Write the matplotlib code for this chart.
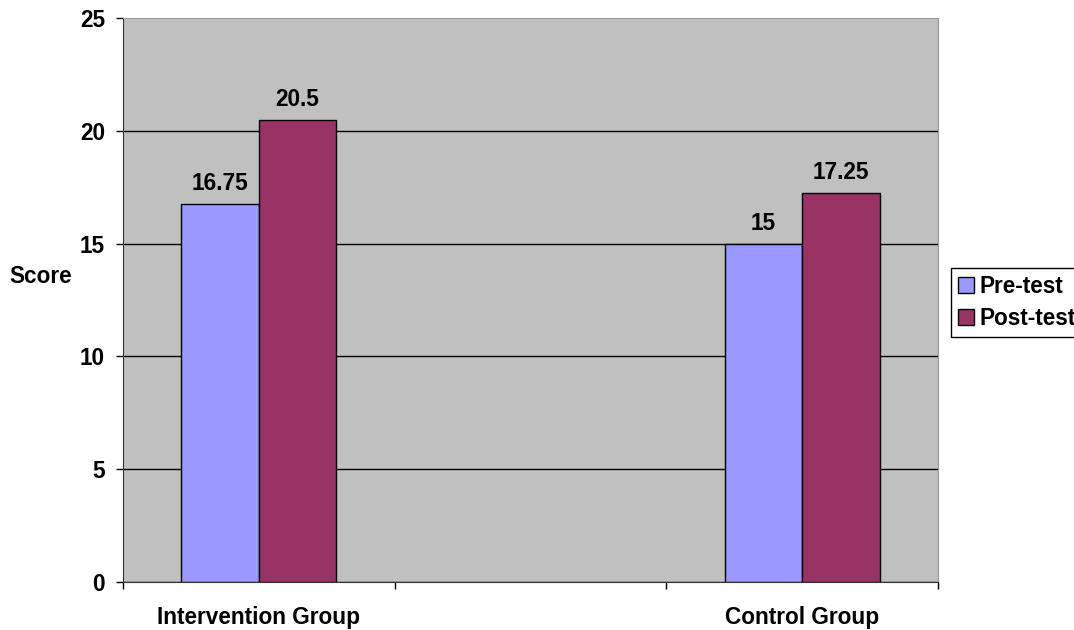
import matplotlib.pyplot as plt
import numpy as np

groups = ["Intervention Group", "", "Control Group"]
pre_test = [16.75, np.nan, 15]
post_test = [20.5, np.nan, 17.25]
pre_labels = ["16.75", "", "15"]
post_labels = ["20.5", "", "17.25"]

plt.rcParams["font.family"] = ["Liberation Sans", "DejaVu Sans"]
plt.rcParams["font.weight"] = "bold"
fs = 16.3

fig = plt.figure(figsize=(10.74, 6.3), dpi=100)
ax = fig.add_axes([123 / 1074, 48 / 630, 815 / 1074, 564 / 630])
ax.set_facecolor("#C0C0C0")

x = np.arange(len(groups))
w = 1 / 3.5  # gap width 150%
b1 = ax.bar(x - w / 2, pre_test, w, color="#9999FF", edgecolor="black",
            linewidth=1, label="Pre-test", zorder=3)
b2 = ax.bar(x + w / 2, post_test, w, color="#993366", edgecolor="black",
            linewidth=1, label="Post-test", zorder=3)

for bars, vals, labs in [(b1, pre_test, pre_labels), (b2, post_test, post_labels)]:
    for rect, v, s in zip(bars, vals, labs):
        if s:
            ax.annotate(s, (rect.get_x() + rect.get_width() / 2, v),
                        xytext=(0, 10), textcoords="offset points",
                        ha="center", va="baseline", fontsize=fs,
                        fontweight="bold")

ax.set_xlim(-0.5, 2.5)
ax.set_ylim(0, 25)
ax.set_yticks([0, 5, 10, 15, 20, 25])
ax.tick_params(axis="y", labelsize=fs, length=5, width=1, pad=8,
               direction="out")

# category boundaries get the tick marks, names sit between them
ax.set_xticks([-0.5, 0.5, 1.5, 2.5])
ax.set_xticklabels([])
ax.set_xticks(x, minor=True)
ax.set_xticklabels(groups, minor=True)
ax.tick_params(axis="x", which="major", length=5, width=1, direction="out")
ax.tick_params(axis="x", which="minor", length=0, pad=17, labelsize=fs)

ax.grid(axis="y", color="black", linewidth=1, zorder=1)
ax.set_axisbelow(True)
ax.get_ygridlines()[-1].set_visible(False)

for side in ["left", "bottom"]:
    ax.spines[side].set_color("#333333")
for side in ["top", "right"]:
    ax.spines[side].set_color("#999999")

ax.set_ylabel("Score", rotation=0, fontsize=fs, fontweight="bold",
              ha="center", va="center")
ax.yaxis.set_label_coords(-0.1006, 0.541)

fig.legend(loc="upper left", bbox_to_anchor=(951 / 1074, 1 - 268 / 630),
           fontsize=fs, frameon=True, fancybox=False, edgecolor="black",
           framealpha=1, handlelength=0.7, handleheight=0.7,
           handletextpad=0.25, borderpad=0.3, labelspacing=0.4,
           borderaxespad=0)

fig.savefig("out.png", dpi=100)
